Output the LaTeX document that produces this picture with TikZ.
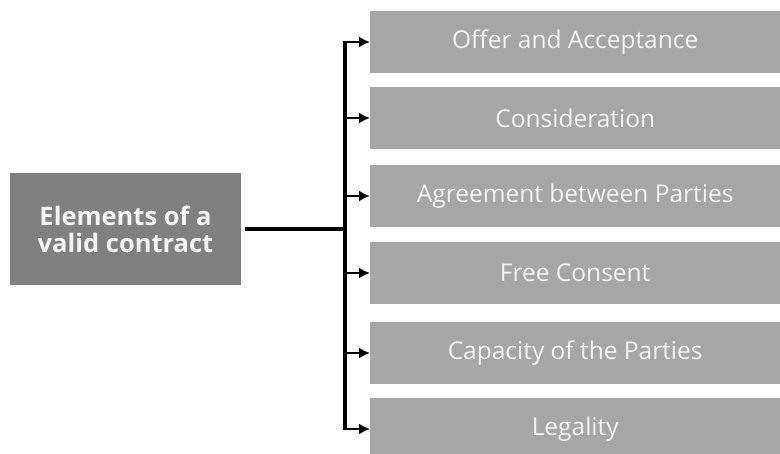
\documentclass[tikz,border=0pt]{standalone}
\usepackage{xcolor}
\usepackage{fontspec}
\setmainfont{Open Sans}
\usepackage{tikz}
\usetikzlibrary{arrows.meta,positioning,calc}

\definecolor{maingray}{HTML}{808080}
\definecolor{itemgray}{HTML}{A6A6A6}
\definecolor{textwhite}{HTML}{F4F4F4}

\tikzset{
    mainbox/.style={fill=maingray, text=textwhite, minimum width=231pt, minimum height=112pt,
        align=center, inner sep=0pt, font=\fontsize{25.5}{27}\selectfont\bfseries},
    itembox/.style={fill=itemgray, text=textwhite, minimum width=410pt, minimum height=62pt,
        anchor=west, inner sep=0pt, font=\fontsize{24.5}{26}\selectfont},
    link/.style={line width=3.4pt},
    arrow/.style={line width=2.8pt, -{Latex[length=11pt,width=11pt]}}
}

\begin{document}
\begin{tikzpicture}[x=1pt,y=-1pt]
    \useasboundingbox (0,0) rectangle (780,453);

    \node[mainbox] (elements) at (125.5,229) {Elements of a\\valid contract};

    \node[itembox] (offer) at (370,42) {Offer and Acceptance};
    \node[itembox] (consideration) at (370,118) {Consideration};
    \node[itembox] (agreement) at (370,196) {Agreement between Parties};
    \node[itembox] (consent) at (370,273) {Free Consent};
    \node[itembox] (capacity) at (370,353) {Capacity of the Parties};
    \node[itembox] (legality) at (370,429) {Legality};

    \coordinate (trunk) at (345,229);

    \draw[link] (elements.east) ++(4pt,0) -- (trunk);
    \draw[link] (trunk |- offer.west) -- (trunk |- legality.west);

    \foreach \item in {offer,consideration,agreement,consent,capacity,legality}
        \draw[arrow] ([xshift=-1.7pt]trunk |- \item.west) -- (\item.west);
\end{tikzpicture}
\end{document}
